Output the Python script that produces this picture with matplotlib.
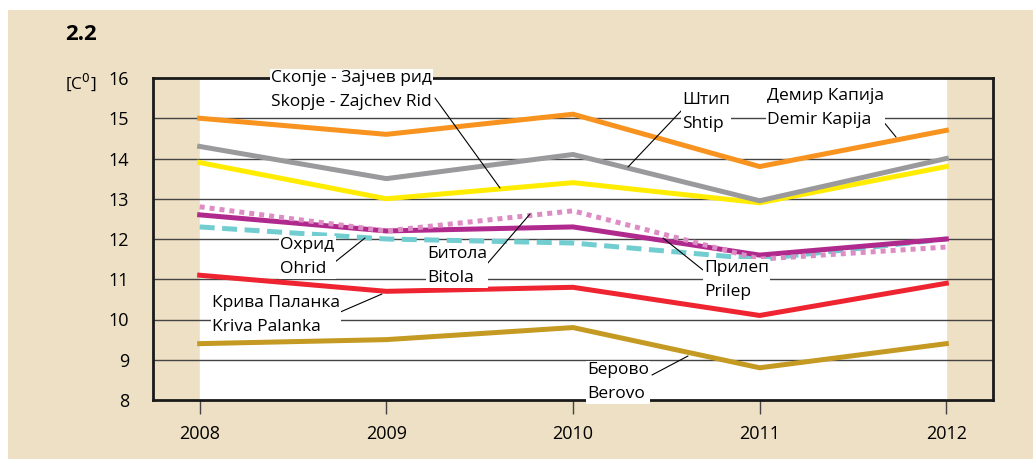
import matplotlib.pyplot as plt
from matplotlib.patches import Rectangle

plt.rcParams['font.family'] = ['Open Sans', 'DejaVu Sans']

years = [2008, 2009, 2010, 2011, 2012]
demir_kapija = [15.0, 14.6, 15.1, 13.8, 14.7]
shtip = [14.3, 13.5, 14.1, 12.95, 14.0]
skopje = [13.9, 13.0, 13.4, 12.9, 13.8]
bitola = [12.8, 12.2, 12.7, 11.5, 11.8]
prilep = [12.6, 12.2, 12.3, 11.6, 12.0]
ohrid = [12.3, 12.0, 11.9, 11.5, 12.0]
kriva_palanka = [11.1, 10.7, 10.8, 10.1, 10.9]
berovo = [9.4, 9.5, 9.8, 8.8, 9.4]

beige = '#EDE0C4'

fig = plt.figure(figsize=(10.33, 4.59), dpi=100)
fig.patch.set_facecolor('white')
fig.patches.append(Rectangle((8 / 1033, 0), 1, 1 - 10 / 459, transform=fig.transFigure,
                             facecolor=beige, edgecolor='none', zorder=-10))

ax = fig.add_axes([153 / 1033, 1 - 400 / 459, 840 / 1033, 322 / 459])
ax.set_facecolor(beige)
ax.axvspan(2008, 2012, color='white', zorder=0)
ax.set_xlim(2007.75, 2012.25)
ax.set_ylim(8, 16)

for v in range(9, 16):
    ax.axhline(v, color='#444444', lw=1, zorder=1)

ax.plot(years, berovo, color='#C49A22', lw=3.6, zorder=3)
ax.plot(years, kriva_palanka, color='#EE2430', lw=3.6, zorder=3)
ax.plot(years, ohrid, color='#72CDD0', lw=3.6, ls=(0, (3, 1.5)), zorder=3)
ax.plot(years, prilep, color='#B02A8E', lw=3.6, zorder=3)
ax.plot(years, bitola, color='#DE8DC4', lw=3.6, ls=(0, (1, 1)), zorder=4)
ax.plot(years, skopje, color='#FFEC00', lw=3.6, zorder=3)
ax.plot(years, shtip, color='#9A9A9C', lw=3.6, zorder=3)
ax.plot(years, demir_kapija, color='#F7931E', lw=3.6, zorder=3)

for s in ['left', 'right', 'top', 'bottom']:
    ax.spines[s].set_linewidth(2)
    ax.spines[s].set_color('#1a1a1a')

ax.set_xticks(years)
ax.set_xticklabels([str(y) for y in years])
ax.set_yticks(range(8, 17))
ax.tick_params(axis='x', direction='out', length=10, width=1, color='#444444',
               labelsize=13, pad=8)
ax.tick_params(axis='y', length=0, labelsize=13, pad=17)

fig.text(65 / 1033, 1 - 34 / 459, '2.2', fontsize=16, fontweight='bold', va='center')
fig.text(81 / 1033, 1 - 82 / 459, '[C$^0$]', fontsize=12.5, va='center', ha='center')

box = dict(facecolor='white', edgecolor='none', pad=1)

def label(text, tx, ty, x1, y1, x2, y2):
    # tx, ty, x1.. in pixel coords of the original picture
    ax.annotate('', xy=(x2 / 1033, 1 - y2 / 459), xytext=(x1 / 1033, 1 - y1 / 459),
                xycoords='figure fraction', textcoords='figure fraction',
                arrowprops=dict(arrowstyle='-', color='black', lw=0.8, shrinkA=0, shrinkB=0),
                zorder=6)
    fig.text(tx / 1033, 1 - ty / 459, text, fontsize=12.5, va='top', ha='left',
             linespacing=1.7, bbox=box, zorder=7)

label('Скопје - Зајчев рид\nSkopje - Zajchev Rid', 271, 70, 435, 98, 500, 188)
label('Штип\nShtip', 682, 92, 682, 110, 628, 167)
label('Демир Капија\nDemir Kapija', 767, 88, 878, 115, 896, 137)
label('Охрид\nOhrid', 280, 237, 335, 262, 365, 238)
label('Битола\nBitola', 427, 246, 487, 264, 530, 214)
label('Прилеп\nPrilep', 704, 260, 703, 270, 663, 238)
label('Крива Паланка\nKriva Palanka', 212, 295, 338, 313, 382, 294)
label('Берово\nBerovo', 587, 362, 652, 375, 688, 356)

fig.savefig('out.png', dpi=100, facecolor=fig.get_facecolor())
